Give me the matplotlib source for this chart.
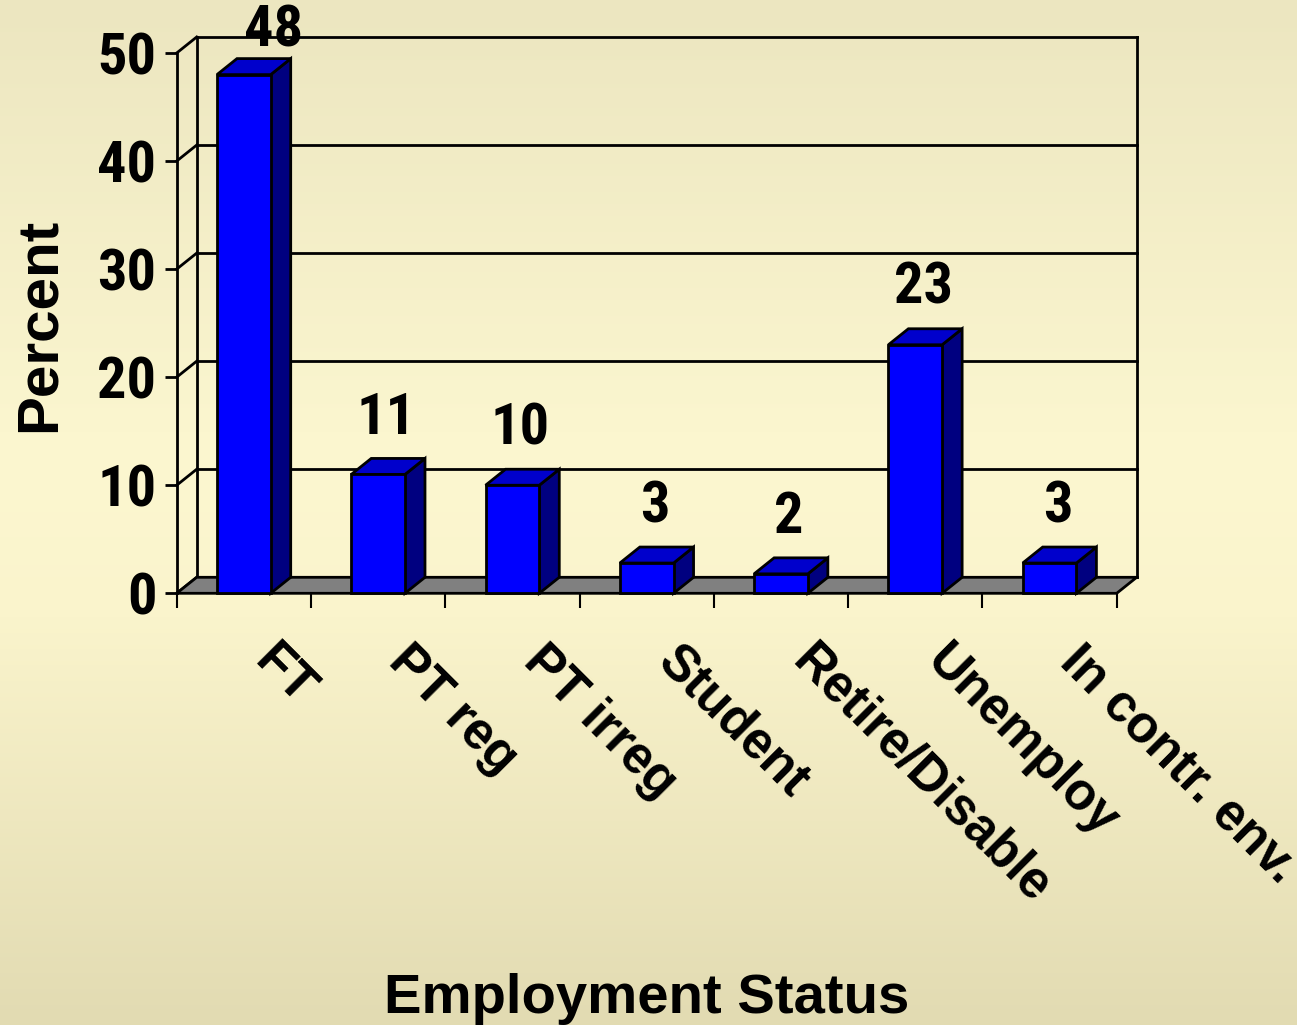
import matplotlib
matplotlib.use("Agg")
import matplotlib.pyplot as plt
import numpy as np
from matplotlib.patches import Polygon
from matplotlib import font_manager
from matplotlib.transforms import ScaledTranslation
from matplotlib.colors import LinearSegmentedColormap

# ---------------- data ----------------
categories = ["FT", "PT reg", "PT irreg", "Student", "Retire/Disable", "Unemploy", "In contr. env."]
values = [48, 11, 10, 2.8, 1.8, 23, 2.8]
value_labels = ["48", "11", "10", "3", "2", "23", "3"]
yticks = [0, 10, 20, 30, 40, 50]
xlabel = "Employment Status"
ylabel = "Percent"

# ---------------- fonts ----------------
names = {f.name for f in font_manager.fontManager.ttflist}
MAIN = "Liberation Sans" if "Liberation Sans" in names else "DejaVu Sans"
NARROW = MAIN
for cand in ["Liberation Sans Narrow", "Arial Narrow", "Roboto Condensed", "Open Sans Condensed"]:
    if cand in names:
        NARROW = cand
        break
NUM_SIZE = 42 if NARROW != MAIN else 40

W, H = 1297, 1025
fig = plt.figure(figsize=(W / 100, H / 100), dpi=100)

# background gradient
bg = fig.add_axes([0, 0, 1, 1], zorder=-10)
cmap = LinearSegmentedColormap.from_list(
    "bg", [(0.0, "#ECE6C0"), (0.45, "#FCF7D0"), (0.6, "#FAF4CC"), (1.0, "#E2DBB2")])
grad = np.linspace(0, 1, 256).reshape(-1, 1)
bg.imshow(grad, aspect="auto", cmap=cmap, extent=[0, 1, 0, 1], origin="upper")
bg.set_axis_off()

# main axes = front plane
left_px, right_px, top_px, bot_px = 176.7, 1116.7, 53.0, 593.3
ax = fig.add_axes([left_px / W, 1 - bot_px / H, (right_px - left_px) / W, (bot_px - top_px) / H])
n = len(categories)
ymax = 50
ax.set_xlim(0, n)
ax.set_ylim(0, ymax)
ax.patch.set_visible(False)
for s in ax.spines.values():
    s.set_visible(False)

px_per_cat = (right_px - left_px) / n
px_per_unit = (bot_px - top_px) / ymax
dx = 20 / px_per_cat
dy = 16 / px_per_unit
LW = 2.0

# y ticks on the front axis
ax.spines["left"].set_visible(True)
ax.spines["left"].set_linewidth(LW)
ax.set_yticks(yticks)
ax.set_yticklabels([str(t) for t in yticks])
ax.tick_params(axis="y", length=8.6, width=LW, direction="out", pad=6.0)
for lab in ax.get_yticklabels():
    lab.set_fontfamily(NARROW)
    lab.set_fontweight("bold")
    lab.set_fontsize(NUM_SIZE)

# x ticks at category boundaries
ax.set_xticks(range(n + 1))
ax.set_xticklabels([""] * (n + 1))
ax.tick_params(axis="x", length=10.8, width=1.5, direction="out")

# left wall diagonals, back wall gridlines
for t in yticks:
    ax.plot([0, dx], [t, t + dy], color="black", lw=LW, clip_on=False, zorder=2)
    ax.plot([dx, n + dx], [t + dy, t + dy], color="black", lw=LW, clip_on=False, zorder=2)
ax.plot([dx, dx], [dy, ymax + dy], color="black", lw=LW, clip_on=False, zorder=2)
ax.plot([n + dx, n + dx], [dy, ymax + dy], color="black", lw=LW, clip_on=False, zorder=2)

# floor
floor = Polygon([(0, 0), (n, 0), (n + dx, dy), (dx, dy)], closed=True,
                facecolor="#808080", edgecolor="black", lw=LW, clip_on=False, zorder=3)
ax.add_patch(floor)

# bars
w = 0.4
for i, v in enumerate(values):
    x0 = i + 0.5 - w / 2
    x1 = x0 + w
    side = Polygon([(x1, 0), (x1 + dx, dy), (x1 + dx, v + dy), (x1, v)],
                   closed=True, facecolor="#000080", edgecolor="black", lw=LW,
                   joinstyle="miter", clip_on=False, zorder=4)
    top = Polygon([(x0, v), (x1, v), (x1 + dx, v + dy), (x0 + dx, v + dy)],
                  closed=True, facecolor="#0000CC", edgecolor="black", lw=LW,
                  joinstyle="miter", clip_on=False, zorder=4)
    front = Polygon([(x0, 0), (x1, 0), (x1, v), (x0, v)],
                    closed=True, facecolor="#0000FF", edgecolor="black", lw=LW,
                    joinstyle="miter", clip_on=False, zorder=5)
    for p in (side, top, front):
        ax.add_patch(p)
    clamped = v + dy + 2.3 > ymax + 0.6
    ax.text(i + 0.5 + (0.22 if clamped else 0.06), min(v + dy + 2.3, ymax + 0.6), value_labels[i],
            ha="center", va="baseline", fontsize=NUM_SIZE, fontweight="bold",
            fontfamily=NARROW, zorder=6, clip_on=False)

# category labels
off = ScaledTranslation(0.36, -0.43, fig.dpi_scale_trans)
for i, cat in enumerate(categories):
    ax.text(i + 0.5, 0, cat, transform=ax.transData + off, rotation=-45,
            rotation_mode="anchor", ha="left", va="top", fontsize=37,
            fontweight="bold", fontfamily=MAIN, clip_on=False)

fig.text(40 / W, 1 - 325 / H, ylabel, rotation=90, ha="center", va="center",
         fontsize=42, fontweight="bold", fontfamily=MAIN)
fig.text(647 / W, 1 - 1013 / H, xlabel, ha="center", va="baseline",
         fontsize=40.5, fontweight="bold", fontfamily=MAIN)

fig.savefig("out.png", dpi=100)
